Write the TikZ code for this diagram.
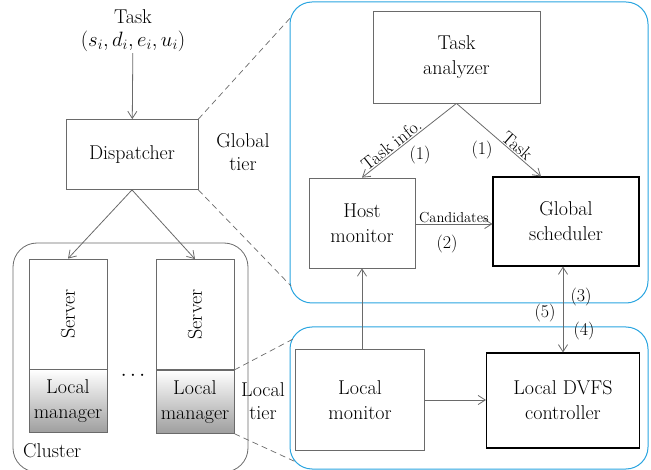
\documentclass[tikz,border=0pt]{standalone}
\usepackage{tikz}
\usetikzlibrary{
  arrows.meta,
  positioning
}
\definecolor{tierBlue}{HTML}{2AA5E0}
\definecolor{boxGray}{HTML}{6A6A6A}
\definecolor{shadeGray}{HTML}{9E9E9E}
\tikzset{
  blk/.style={
    draw=boxGray, line width=0.8pt, align=center, inner sep=0pt,
    font=\fontsize{20}{25}\selectfont
  },
  blkdark/.style={blk, draw=black, line width=1.1pt},
  srv/.style={blk, minimum width=78pt, minimum height=110pt},
  mgr/.style={blk, minimum width=78pt, minimum height=63pt, top color=white, bottom color=shadeGray},
  tier/.style={draw=tierBlue, line width=1pt, rounded corners=22pt},
  grp/.style={draw=boxGray, line width=0.8pt, rounded corners=24pt},
  flow/.style={-{Straight Barb[length=2.5mm, width=3.2mm]}, line width=0.8pt, boxGray},
  biflow/.style={{Straight Barb[length=2.5mm, width=3.2mm]}-{Straight Barb[length=2.5mm, width=3.2mm]}, line width=0.8pt, boxGray},
  zoomline/.style={boxGray, line width=0.7pt, dash pattern=on 6pt off 4pt},
  txt/.style={font=\fontsize{20}{23}\selectfont, align=center, inner sep=1pt},
  tag/.style={font=\fontsize{18}{21}\selectfont, text=black, inner sep=1pt},
  smalltag/.style={font=\fontsize{14.5}{17}\selectfont, text=black, inner sep=1pt}
}

\begin{document}
\begin{tikzpicture}[x=1pt, y=-1pt, node distance=0pt]
  \useasboundingbox (0,0) rectangle (651,470);

  % tiers and cluster
  \draw[tier] (290,2) rectangle (648,303);
  \draw[tier] (290,327) rectangle (648,469);
  \draw[grp] (13,243) rectangle (248,472);

  % global tier
  \node[blk, minimum width=167pt, minimum height=92pt] (ana) at (456.5,57) {Task\\analyzer};
  \node[blk, minimum width=106pt, minimum height=90pt] (host) at (362,223) {Host\\monitor};
  \node[blkdark, minimum width=146pt, minimum height=89pt] (sched) at (566,221.5) {Global\\scheduler};

  % local tier
  \node[blk, minimum width=129pt, minimum height=101pt] (lmon) at (360,400) {Local\\monitor};
  \node[blkdark, minimum width=153pt, minimum height=95pt] (dvfs) at (563,400.5) {Local DVFS\\controller};

  % dispatcher and cluster
  \node[txt] (task) at (133,31) {Task\\$(s_i, d_i, e_i, u_i)$};
  \node[blk, minimum width=132pt, minimum height=70pt] (disp) at (132,154.5) {Dispatcher};
  \node[srv] (srvA) at (68,314) {\rotatebox{90}{Server}};
  \node[mgr, below=of srvA] (mgrA) {Local\\manager};
  \node[srv] (srvB) at (195,314.5) {\rotatebox{90}{Server}};
  \node[mgr, below=of srvB] (mgrB) {Local\\manager};
  \node[txt] (dots) at (133,376) {$\cdots$};
  \node[txt, anchor=west] (clus) at (22,451) {Cluster};
  \node[txt] (gtier) at (243,152) {Global\\tier};
  \node[txt] (ltier) at (263,401) {Local\\tier};

  % zoom lines
  \coordinate (gA) at (292,16);
  \coordinate (gB) at (291,286);
  \coordinate (lA) at (295,338);
  \coordinate (lB) at (296,462);
  \draw[zoomline] (disp.north east) -- (gA);
  \draw[zoomline] (disp.south east) -- (gB);
  \draw[zoomline] (mgrB.north east) -- (lA);
  \draw[zoomline] (mgrB.south east) -- (lB);

  % flows
  \draw[flow] (task) -- (disp);
  \draw[flow] (disp.south) -- (srvA.north);
  \draw[flow] (disp.south) -- (srvB.north);
  \draw[flow] (ana.south) -- node[tag, pos=0.64, sloped, above] {Task info.} (host.north);
  \draw[flow] (ana.south) -- node[tag, pos=0.66, sloped, above] {Task} ([xshift=-25pt]sched.north);
  \draw[flow] ([yshift=-1pt]host.east) -- node[smalltag, above] {Candidates} ([yshift=-1pt]host.east -| sched.west);
  \draw[flow] (lmon.north -| host.south) -- (host.south);
  \draw[biflow] (sched.south -| dvfs.north) -- (dvfs.north);
  \draw[flow] (lmon.east) -- (lmon.east -| dvfs.west);

  % step numbers
  \node[tag] (n1a) at (420,155) {(1)};
  \node[tag] (n1b) at (482,150) {(1)};
  \node[tag] (n2) at (447,244) {(2)};
  \node[tag] (n3) at (581,297) {(3)};
  \node[tag] (n5) at (545,313) {(5)};
  \node[tag] (n4) at (584,331) {(4)};
\end{tikzpicture}
\end{document}
